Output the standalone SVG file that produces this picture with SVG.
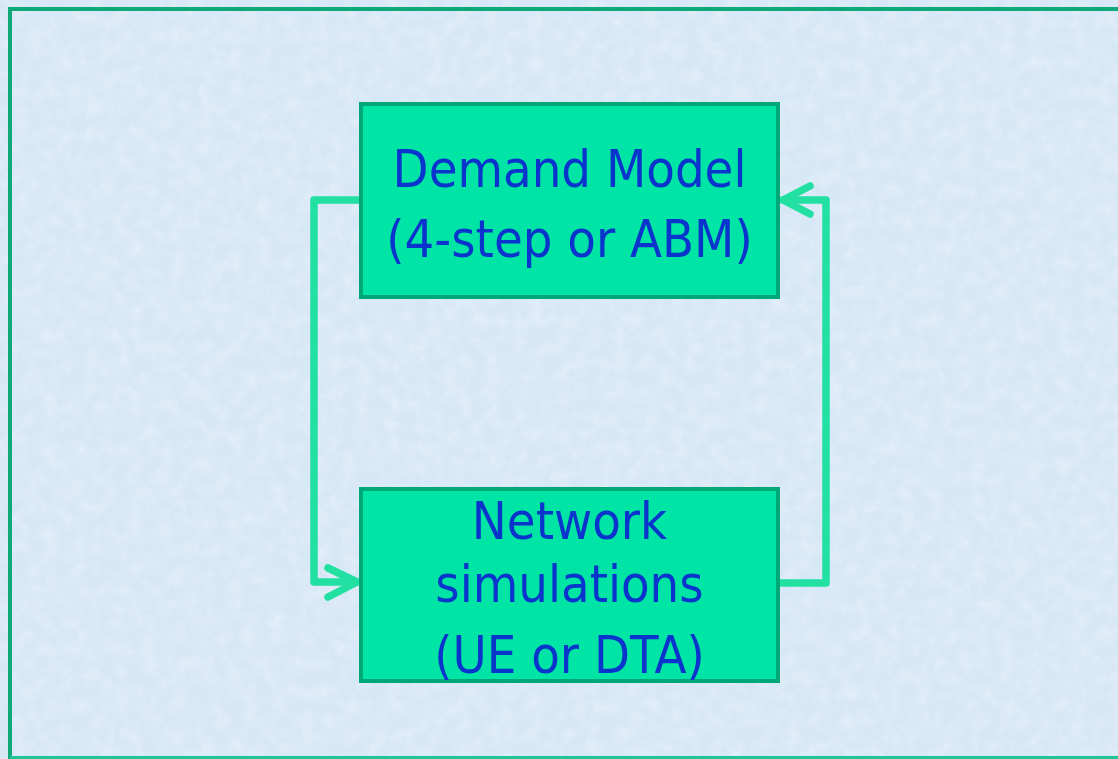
<svg xmlns="http://www.w3.org/2000/svg" width="1118" height="759" viewBox="0 0 1118 759">
  <style>
    .box { fill: #00E5A6; stroke: #00A878; stroke-width: 4; }
    .label { font-family: "DejaVu Sans Condensed", "DejaVu Sans", sans-serif; font-size: 52px; fill: #0A35CC; text-anchor: middle; }
    .link { fill: none; stroke: #22E0A2; stroke-width: 7.5; stroke-linecap: round; stroke-linejoin: round; }
  </style>
  <defs>
    <!-- soft paper-like grain for the page -->
    <filter id="grain" x="0" y="0" width="100%" height="100%">
      <feTurbulence type="fractalNoise" baseFrequency="0.07" numOctaves="4" seed="7" result="noise"/>
      <feColorMatrix in="noise" type="matrix"
        values="0 0 0 0 1
                0 0 0 0 1
                0 0 0 0 1
                0 0 0 1.2 -0.4"/>
    </filter>
  </defs>

  <!-- page background -->
  <rect x="0" y="0" width="1118" height="759" fill="#D6E7F6"/>
  <rect x="0" y="0" width="1118" height="759" filter="url(#grain)" opacity="0.45"/>
  <!-- slide frame -->
  <path d="M10 759 L10 9 L1120 9" fill="none" stroke="#0FA878" stroke-width="4"/>
  <line x1="10" y1="757.5" x2="1118" y2="757.5" stroke="#22C495" stroke-width="3"/>

  <g id="connectors">
    <path class="link" d="M360 200 L314 200 L314 582 L357 582"/>
    <path class="link" d="M328 568 L357 582 L328 597"/>
    <path class="link" d="M779 583 L826 583 L826 200 L783 200"/>
    <path class="link" d="M810 186 L783 200 L810 214"/>
  </g>

  <g id="demand-model">
    <rect class="box" x="361" y="104" width="417" height="193"/>
    <text class="label" x="569.5" y="187">Demand Model</text>
    <text class="label" x="569.5" y="257">(4-step or ABM)</text>
  </g>

  <g id="network-simulations">
    <rect class="box" x="361" y="489" width="417" height="192"/>
    <text class="label" x="569.5" y="539">Network</text>
    <text class="label" x="569.5" y="602">simulations</text>
    <text class="label" x="569.5" y="673">(UE or DTA)</text>
  </g>
</svg>
